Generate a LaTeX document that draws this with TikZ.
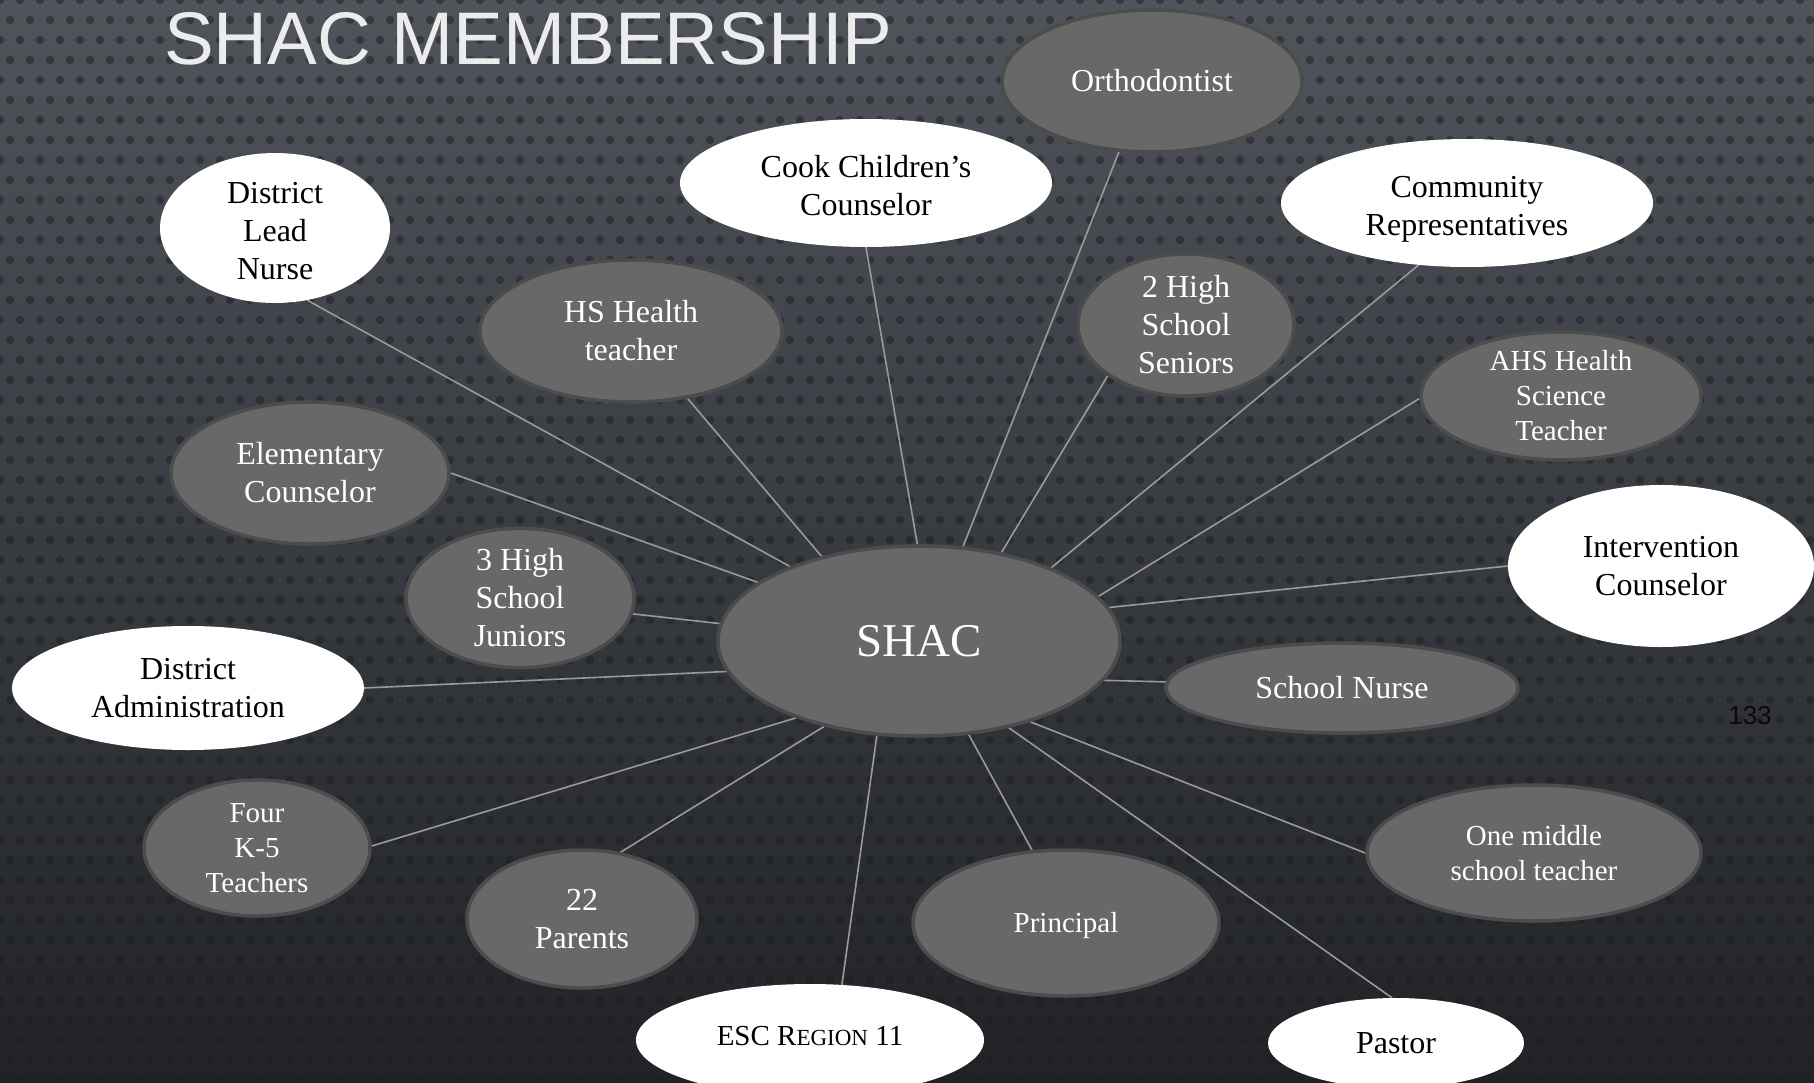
\documentclass[tikz,border=0pt]{standalone}
\usepackage{fontspec}
\setmainfont{Liberation Serif}
\newfontfamily\titlefont{Liberation Sans}
\usetikzlibrary{shapes.geometric}
\definecolor{bgtop}{HTML}{50545B}
\definecolor{bgmid}{HTML}{363940}
\definecolor{bgbot}{HTML}{202226}
\definecolor{dotc}{HTML}{1C1E22}
\definecolor{nodegrey}{HTML}{686868}
\definecolor{nodeedge}{HTML}{4C4C4C}
\definecolor{linkc}{HTML}{9A9A9A}
\definecolor{titlec}{HTML}{ECECEC}
\definecolor{numc}{HTML}{0A0A0A}
\pgfdeclarelayer{back}
\pgfdeclarelayer{links}
\pgfsetlayers{back,links,main}
\tikzset{
  member/.style={ellipse, inner sep=0pt, align=center,
    font=\fontsize{32}{38}\selectfont},
  greynode/.style={member, fill=nodegrey, draw=nodeedge, line width=3.5pt, text=white},
  whitenode/.style={member, fill=white, text=black},
  smalltext/.style={font=\fontsize{29}{35}\selectfont},
  membertext/.style={inner sep=0pt, align=center, font=\fontsize{32}{38}\selectfont},
  link/.style={draw=linkc, line width=1.6pt},
}
\begin{document}
\begin{tikzpicture}[x=1pt,y=-1pt]
\useasboundingbox (0,0) rectangle (1814,1082);
\clip (0,0) rectangle (1814,1082);
\begin{pgfonlayer}{back}
  \shade[top color=bgtop, middle color=bgmid, bottom color=bgbot] (0,0) rectangle (1814,1082);
  \foreach \j in {0,...,55}{
    \foreach \i in {0,...,91}{
      \fill[dotc, opacity=0.5] ({\i*20+10*mod(\j,2)},{\j*20}) circle (4.2pt);
    }
  }
\end{pgfonlayer}

\node[anchor=base west, inner sep=0pt, text=titlec,
  font=\titlefont\fontsize{74.5}{74.5}\selectfont] (title) at (164,64) {SHAC MEMBERSHIP};
\node[text=numc, inner sep=0pt, font=\titlefont\fontsize{26}{26}\selectfont] (pg) at (1750,716) {133};

\node[greynode, minimum width=402pt, minimum height=190pt, font=\fontsize{47}{52}\selectfont] (shac) at (919,641) {SHAC};

\node[greynode, minimum width=300pt, minimum height=142pt] (ortho) at (1152,81) {Orthodontist};
\node[whitenode, minimum width=372pt, minimum height=128pt] (cook) at (866,183) {};
\node[membertext, text=black] (cooktxt) at ([yshift=-3pt]cook.center) {Cook Children’s\\Counselor};
\node[whitenode, minimum width=372pt, minimum height=128pt] (comm) at (1467,203) {};
\node[membertext, text=black] (commtxt) at ([yshift=-6pt]comm.center) {Community\\Representatives};
\node[whitenode, minimum width=230pt, minimum height=150pt] (lead) at (275,228) {};
\node[membertext, text=black] (leadtxt) at ([yshift=-3pt]lead.center) {District\\Lead\\Nurse};
\node[greynode, minimum width=302pt, minimum height=142pt] (hsh) at (631,331) {HS Health\\ teacher};
\node[greynode, minimum width=216pt, minimum height=142pt] (sen) at (1186,325) {2 High\\School\\Seniors};
\node[greynode, smalltext, minimum width=280pt, minimum height=122pt] (ahs) at (1561,396) {AHS Health\\Science\\Teacher};
\node[greynode, minimum width=278pt, minimum height=142pt] (elem) at (310,473) {Elementary\\Counselor};
\node[whitenode, minimum width=306pt, minimum height=162pt] (interv) at (1661,566) {Intervention\\Counselor};
\node[greynode, minimum width=228pt, minimum height=138pt] (jun) at (520,598) {3 High\\School\\Juniors};
\node[whitenode, minimum width=352pt, minimum height=124pt] (admin) at (188,688) {District\\Administration};
\node[greynode, minimum width=352pt, minimum height=90pt] (nurse) at (1342,688) {School Nurse};
\node[greynode, smalltext, minimum width=226pt, minimum height=136pt] (k5) at (257,848) {Four\\K-5\\Teachers};
\node[greynode, smalltext, minimum width=334pt, minimum height=136pt] (mid) at (1534,853) {One middle\\school teacher};
\node[greynode, minimum width=230pt, minimum height=138pt] (par) at (582,919) {22\\Parents};
\node[greynode, minimum width=306pt, minimum height=146pt] (prin) at (1066,923) {};
\node[membertext, text=white, font=\fontsize{29}{35}\selectfont] (printxt) at ([yshift=-3pt]prin.center) {Principal};
\node[whitenode, minimum width=348pt, minimum height=112pt] (esc) at (810,1040) {};
\node[membertext, text=black, font=\fontsize{29}{35}\selectfont] (esctxt) at ([yshift=4pt]esc.center)
  {ESC R{\fontsize{23}{28}\selectfont EGION} 11};
\node[whitenode, minimum width=256pt, minimum height=90pt] (pastor) at (1396,1043) {Pastor};

\begin{pgfonlayer}{links}
  \draw[link] (shac.150) -- (lead.-66);
  \draw[link] (shac.139) -- (hsh.-50);
  \draw[link] (shac.91) -- (cook.-90);
  \draw[link] (shac.65) -- (ortho.-115);
  \draw[link] (shac.47) -- (sen.-147);
  \draw[link] (shac.29) -- (comm.-128);
  \draw[link] (shac.14) -- (ahs.181);
  \draw[link] (shac.10) -- (interv.180);
  \draw[link] (shac.-12) -- (nurse.178);
  \draw[link] (shac.-36) -- (mid.180);
  \draw[link] (shac.-44) -- (pastor.95);
  \draw[link] (shac.-62) -- (prin.115);
  \draw[link] (shac.-114) -- (esc.60);
  \draw[link] (shac.-138) -- (par.60);
  \draw[link] (shac.-148) -- (k5.1);
  \draw[link] (shac.189) -- (admin.0);
  \draw[link] (shac.175) -- (jun.-8);
  \draw[link] (shac.160) -- (elem.0);
\end{pgfonlayer}
\end{tikzpicture}
\end{document}
